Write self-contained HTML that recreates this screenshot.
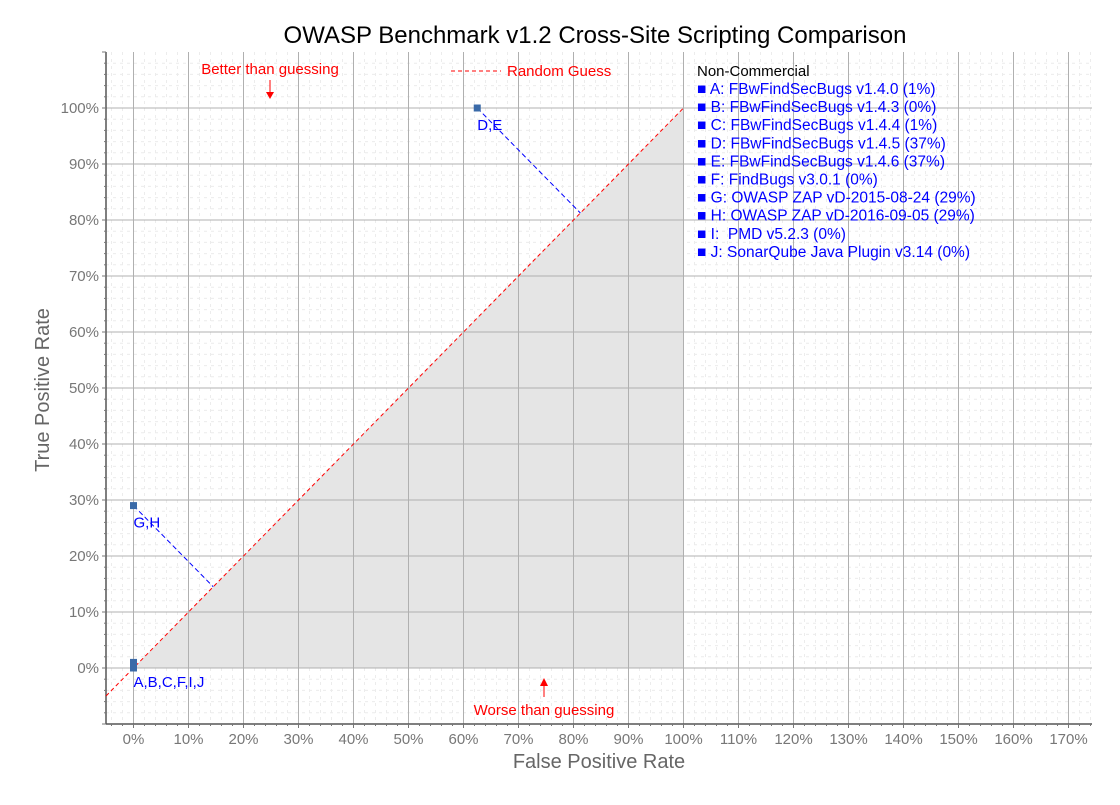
<!DOCTYPE html>
<html><head><meta charset="utf-8"><style>
body{margin:0;background:#fff;font-family:"Liberation Sans",sans-serif}
text{white-space:pre}
</style></head><body>
<svg id="c" width="1120" height="800" xmlns="http://www.w3.org/2000/svg" font-family="Liberation Sans, sans-serif"></svg>
<script>
const labels=["A,B,C,F,I,J","G,H","D,E"];
const fprs=[0,0,62.5];
const tprs=[0.5,29,100];
const markerPts=[[0,0],[0,1],[0,29],[62.5,100]];
const legendItems=["A: FBwFindSecBugs v1.4.0 (1%)","B: FBwFindSecBugs v1.4.3 (0%)","C: FBwFindSecBugs v1.4.4 (1%)","D: FBwFindSecBugs v1.4.5 (37%)","E: FBwFindSecBugs v1.4.6 (37%)","F: FindBugs v3.0.1 (0%)","G: OWASP ZAP vD-2015-08-24 (29%)","H: OWASP ZAP vD-2016-09-05 (29%)","I:  PMD v5.2.3 (0%)","J: SonarQube Java Plugin v3.14 (0%)"];
const xTicks=[0,10,20,30,40,50,60,70,80,90,100,110,120,130,140,150,160,170];
const yTicks=[0,10,20,30,40,50,60,70,80,90,100];
const L=106,R=1092,T=52,B=724;
const X=v=>133.5+v*5.5, Y=v=>668-v*5.6;
const s=document.getElementById('c');
function el(t,a,txt){const e=document.createElementNS('http://www.w3.org/2000/svg',t);for(const k in a)e.setAttribute(k,a[k]);if(txt!=null)e.textContent=txt;s.appendChild(e);return e;}
el('rect',{x:L,y:T,width:R-L,height:B-T,fill:'#fff'});
for(let v=-4;v<=176;v+=2){if(v%10===0)continue;const x=X(v);if(x<=L||x>=R)continue;el('line',{x1:x,x2:x,y1:T,y2:B,stroke:'#ececec','stroke-dasharray':'3,4'});}
for(let v=-10;v<=110;v+=2){if(v%10===0)continue;const y=Y(v);if(y<=T||y>=B)continue;el('line',{x1:L,x2:R,y1:y,y2:y,stroke:'#ececec','stroke-dasharray':'3,4'});}
el('polygon',{points:`${X(0)},${Y(0)} ${X(100)},${Y(0)} ${X(100)},${Y(100)}`,fill:'#e5e5e5'});
xTicks.forEach(v=>{el('line',{x1:X(v),x2:X(v),y1:T,y2:B,stroke:'#b0b0b0'});});
yTicks.forEach(v=>{el('line',{x1:L,x2:R,y1:Y(v),y2:Y(v),stroke:'#b0b0b0'});});
el('line',{x1:L,x2:L,y1:T,y2:B,stroke:'#555','stroke-width':1.5});
el('line',{x1:L,x2:R,y1:B,y2:B,stroke:'#555','stroke-width':1.5});
for(let v=-4;v<=176;v+=2){const x=X(v);if(x<L||x>R)continue;el('line',{x1:x,x2:x,y1:B,y2:B+(v%10===0?4:2),stroke:'#777'});}
for(let v=-10;v<=110;v+=2){const y=Y(v);if(y<T||y>B)continue;el('line',{x1:L,x2:L-(v%10===0?4:2),y1:y,y2:y,stroke:'#777'});}
xTicks.forEach(v=>{const t=el('text',{x:X(v),y:744,'text-anchor':'middle','font-size':15,fill:'#777'},v+'%');});
yTicks.forEach(v=>{const t=el('text',{x:99,y:Y(v)+5,'text-anchor':'end','font-size':15,fill:'#777'},v+'%');});
const d=el('line',{x1:X(-5),y1:Y(-5),x2:X(100),y2:Y(100),stroke:'red','stroke-dasharray':'4,3'});

fprs.forEach((f,i)=>{const t=tprs[i];const m=(f+t)/2;if(Math.abs(t-f)<2)return;const p=el('line',{x1:X(f),y1:Y(t),x2:X(m),y2:Y(m),stroke:'#00f','stroke-dasharray':'5,3'});});
markerPts.forEach(p=>{const r=el('rect',{x:X(p[0])-3.5,y:Y(p[1])-3.5,width:7,height:7,fill:'#3a6aa8'});});
fprs.forEach((f,i)=>{const t=el('text',{x:X(f),y:Y(tprs[i])+22,'font-size':15,fill:'#00f'},labels[i]);});
let a=el('text',{x:270,y:74,'text-anchor':'middle','font-size':15,fill:'red'},'Better than guessing');
el('line',{x1:270,y1:80,x2:270,y2:95,stroke:'red'});el('polygon',{points:'266,92 274,92 270,99',fill:'red'});
a=el('text',{x:544,y:715,'text-anchor':'middle','font-size':15,fill:'red'},'Worse than guessing');
el('line',{x1:544,y1:682,x2:544,y2:697,stroke:'red'});el('polygon',{points:'540,686 548,686 544,678',fill:'red'});
el('line',{x1:451,y1:71,x2:501,y2:71,stroke:'red','stroke-dasharray':'4,3'});
a=el('text',{x:507,y:76,'font-size':15,fill:'red'},'Random Guess');
a=el('text',{x:697,y:76,'font-size':15,fill:'#000'},'Non-Commercial');
legendItems.forEach((s2,i)=>{const t=el('text',{x:697,y:94+i*18.1,'font-size':15.5,fill:'#00f'},'\u25A0 '+s2);});
a=el('text',{x:595,y:43,'text-anchor':'middle','font-size':24,fill:'#000'},'OWASP Benchmark v1.2 Cross-Site Scripting Comparison');
a=el('text',{x:599,y:768,'text-anchor':'middle','font-size':20,fill:'#666'},'False Positive Rate');
a=el('text',{x:49,y:390,'text-anchor':'middle','font-size':20,fill:'#666',transform:'rotate(-90 49 390)'},'True Positive Rate');
</script>
</body></html>
